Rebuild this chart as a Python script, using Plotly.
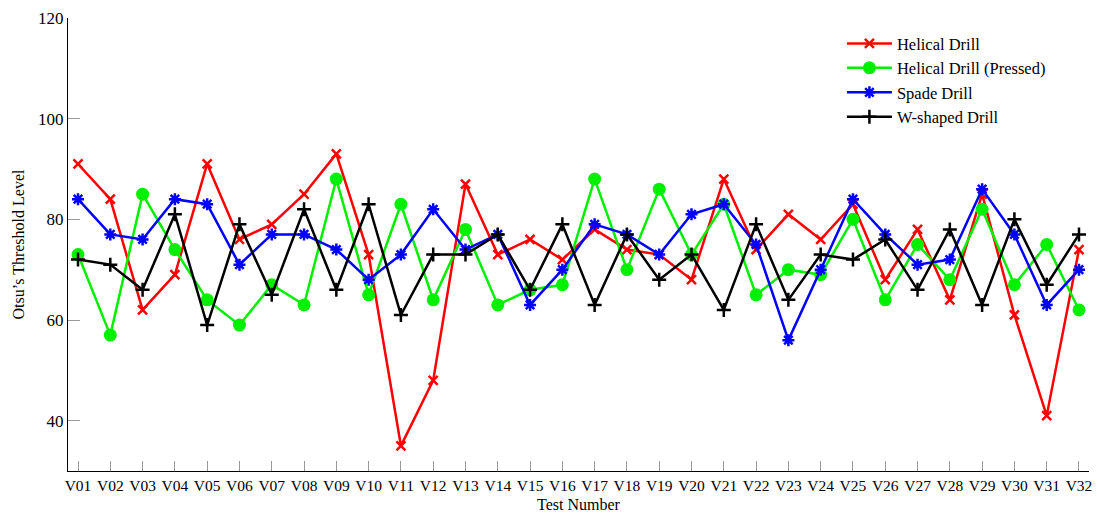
import plotly.graph_objects as go

tests = [f"V{i:02d}" for i in range(1, 33)]

helical = [91, 84, 62, 69, 91, 76, 79, 85, 93, 73, 35, 48, 87, 73, 76, 72,
           78, 74, 73, 68, 88, 74, 81, 76, 83, 68, 78, 64, 85, 61, 41, 74]
helical_pressed = [73, 57, 85, 74, 64, 59, 67, 63, 88, 65, 83, 64, 78, 63, 66, 67,
                   88, 70, 86, 73, 83, 65, 70, 69, 80, 64, 75, 68, 82, 67, 75, 62]
spade = [84, 77, 76, 84, 83, 71, 77, 77, 74, 68, 73, 82, 74, 77, 63, 70,
         79, 77, 73, 81, 83, 75, 56, 70, 84, 77, 71, 72, 86, 77, 63, 70]
w_shaped = [72, 71, 66, 81, 59, 79, 65, 82, 66, 83, 61, 73, 73, 77, 66, 79,
            63, 77, 68, 73, 62, 79, 64, 73, 72, 76, 66, 78, 63, 80, 67, 77]

series = [
    ("Helical Drill", helical, "#ff0000", dict(symbol="x-thin", size=9, line=dict(width=2.5, color="#ff0000"))),
    ("Helical Drill (Pressed)", helical_pressed, "#00f000", dict(symbol="circle", size=13, line=dict(width=0))),
    ("Spade Drill", spade, "#0000ff", dict(symbol="asterisk", size=10, line=dict(width=2.5, color="#0000ff"))),
    ("W-shaped Drill", w_shaped, "#000000", dict(symbol="cross-thin", size=10, line=dict(width=2.5, color="#000000"))),
]

FONT = "Liberation Serif, DejaVu Serif, serif"

fig = go.Figure()
for i, (name, vals, color, marker) in enumerate(series):
    fig.add_trace(go.Scatter(
        x=list(range(len(tests))), y=vals, name=name, mode="lines+markers",
        line=dict(color=color, width=2.5),
        marker=dict(color=color, **marker),
        legendgroup=f"g{i}",
    ))

fig.update_layout(
    width=1097, height=514,
    margin=dict(l=68, r=8, t=18, b=43),
    paper_bgcolor="white", plot_bgcolor="white",
    font=dict(family=FONT, size=16, color="black"),
    showlegend=True,
    legend=dict(x=0.758, y=0.982, xanchor="left", yanchor="top",
                bgcolor="rgba(255,255,255,0)", borderwidth=0,
                font=dict(family=FONT, size=16.5), tracegroupgap=0,
                itemwidth=45),
    xaxis=dict(
        range=[-0.31, 31.31], tickmode="array",
        tickvals=list(range(len(tests))), ticktext=tests,
        showline=True, linecolor="black", linewidth=1.2,
        ticks="inside", ticklen=10, tickcolor="#999999", tickwidth=1,
        showgrid=False, zeroline=False, automargin=False,
        tickfont=dict(family=FONT, size=15.5),
        title=dict(text="Test Number", font=dict(family=FONT, size=16), standoff=6),
    ),
    yaxis=dict(
        range=[30, 120], tickvals=[40, 60, 80, 100, 120],
        showline=True, linecolor="black", linewidth=1.2,
        ticks="inside", ticklen=12, tickcolor="#999999", tickwidth=1,
        showgrid=False, zeroline=False, automargin=False,
        tickfont=dict(family=FONT, size=17),
        title=dict(text="Otsu’s Threshold Level", font=dict(family=FONT, size=16), standoff=9),
    ),
)

fig.write_html("out.html")
